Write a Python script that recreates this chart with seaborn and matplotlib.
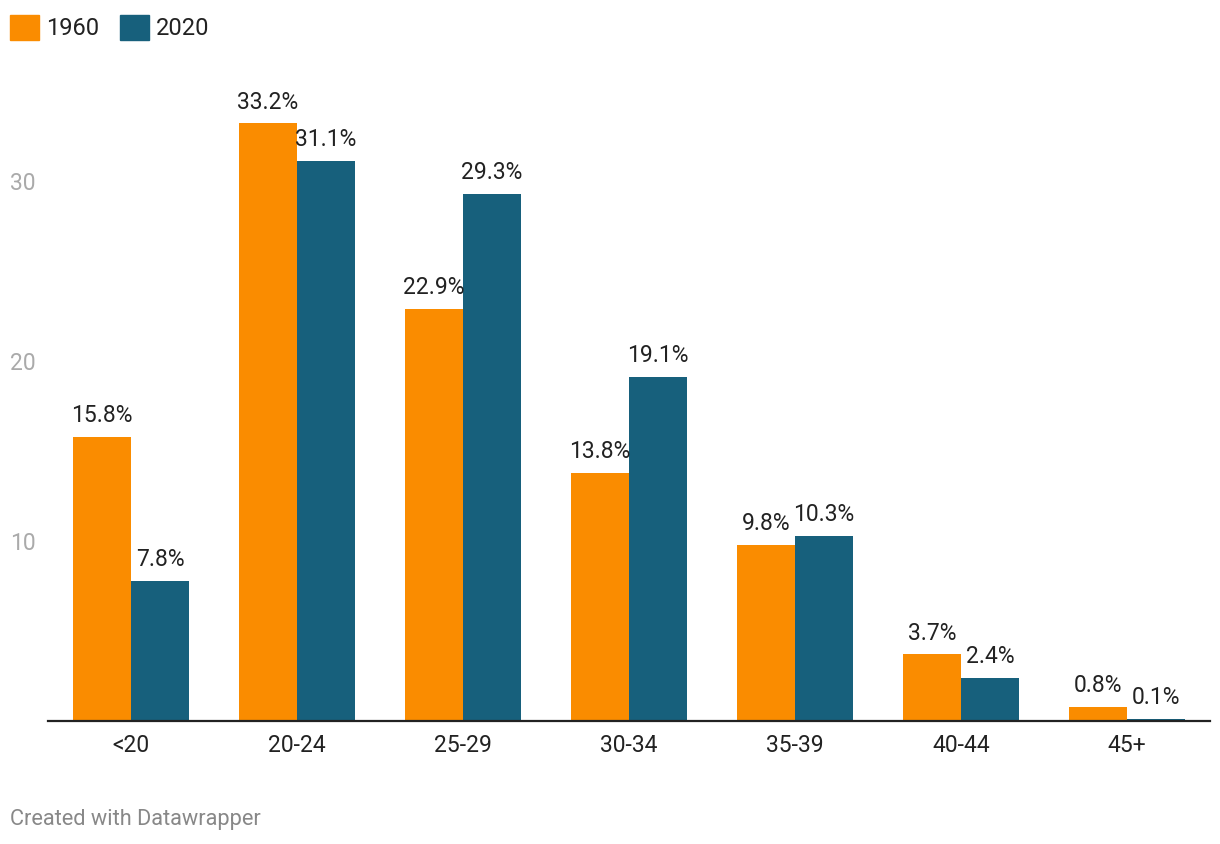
import matplotlib
matplotlib.use("Agg")
import matplotlib.pyplot as plt
import pandas as pd
import seaborn as sns

age_groups = ["<20", "20-24", "25-29", "30-34", "35-39", "40-44", "45+"]
share_1960 = [15.8, 33.2, 22.9, 13.8, 9.8, 3.7, 0.8]
share_2020 = [7.8, 31.1, 29.3, 19.1, 10.3, 2.4, 0.1]
years = ["1960", "2020"]
colors = ["#FA8C00", "#17607C"]

df = pd.DataFrame({
    "age": age_groups * 2,
    "share": share_1960 + share_2020,
    "year": [years[0]] * len(age_groups) + [years[1]] * len(age_groups),
})

sns.set_theme(style="white")
plt.rcParams["font.family"] = ["Roboto", "DejaVu Sans"]

fig = plt.figure(figsize=(12.2, 8.44), dpi=100)
ax = fig.add_axes([48 / 1220, 123 / 844, 1162 / 1220, 630 / 844])

sns.barplot(data=df, x="age", y="share", hue="year", palette=colors,
            width=0.7, saturation=1, linewidth=0, ax=ax, legend=False)

for cont in ax.containers:
    ax.bar_label(cont, fmt="%.1f%%", padding=7, fontsize=16.5, color="#222222")

ax.set_xlim(-0.5, 6.5)
ax.set_ylim(0, 35)
ax.set_yticks([10, 20, 30])
ax.set_xlabel("")
ax.set_ylabel("")
for s in ["top", "right", "left"]:
    ax.spines[s].set_visible(False)
ax.spines["bottom"].set_color("#222222")
ax.spines["bottom"].set_linewidth(1.6)
# labels start 38px left of the axes
ax.tick_params(axis="y", length=0, pad=27.4, labelsize=16.5, labelcolor="#aaaaaa")
ax.tick_params(axis="x", length=0, pad=9, labelsize=16.5, labelcolor="#222222")
for lab in ax.get_yticklabels():
    lab.set_horizontalalignment("left")

# legend squares
handles = [plt.Rectangle((0, 0), 1, 1, color=c) for c in colors]
fig.legend(handles, years, loc="upper left",
           bbox_to_anchor=(10 / 1220, 1 - 15 / 844),
           ncol=2, frameon=False, fontsize=17, handlelength=1.22,
           handleheight=1.22, handletextpad=0.3, columnspacing=0.9,
           borderaxespad=0, borderpad=0, labelcolor="#222222")

fig.text(10 / 1220, 1 - 820 / 844, "Created with Datawrapper", fontsize=15.7,
         color="#888888", va="center", ha="left")

fig.savefig("out.png", dpi=100)
